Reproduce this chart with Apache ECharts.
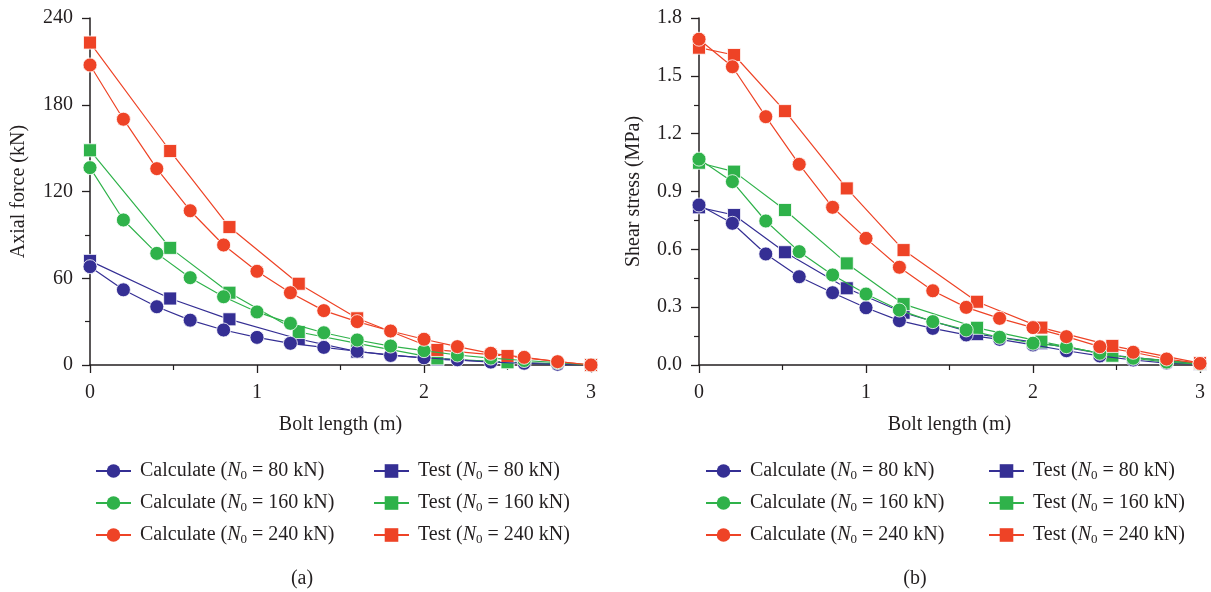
<!DOCTYPE html>
<html>
<head>
<meta charset="utf-8">
<script src="https://cdn.jsdelivr.net/npm/echarts@6/dist/echarts.min.js"></script>
<style>
html,body{margin:0;padding:0;background:#fff;}
#main{width:1211px;height:592px;}
</style>
</head>
<body>
<div id="main"></div>
<script>
// ---- Data ----
const calcX = [0, 0.2, 0.4, 0.6, 0.8, 1.0, 1.2, 1.4, 1.6, 1.8, 2.0, 2.2, 2.4, 2.6, 2.8, 3.0];
const testXA = [0, 0.48, 0.835, 1.25, 1.6, 2.08, 2.5, 3.0];
const testXB = [0, 0.21, 0.515, 0.885, 1.225, 1.665, 2.05, 2.475, 3.0];

// (a) Axial force (kN)
const axialCalc80  = [68, 52, 40.3, 31, 24.2, 19.1, 15, 12.2, 9.5, 6.6, 5, 3.6, 2, 1.2, 0.5, 0];
const axialCalc160 = [136.5, 100.3, 77.2, 60.4, 47.2, 36.7, 28.8, 22.3, 17.3, 13.1, 9.9, 6.9, 4.8, 3.1, 1.7, 0];
const axialCalc240 = [207.5, 170, 135.8, 106.7, 83, 64.8, 50, 37.6, 30, 23.5, 17.8, 12.7, 8.1, 5.3, 2.3, 0];
const axialTest80  = [72, 46, 31.6, 18, 9.2, 3.9, 2, 0];
const axialTest160 = [148.5, 81, 50, 22.8, 15, 4.6, 1.9, 0];
const axialTest240 = [223, 148, 95.4, 56.2, 32.3, 10.4, 6.2, 0];

// (b) Shear stress (MPa)
const shearCalc80  = [0.83, 0.735, 0.576, 0.458, 0.375, 0.297, 0.23, 0.19, 0.156, 0.133, 0.104, 0.074, 0.047, 0.026, 0.01, 0.005];
const shearCalc160 = [1.068, 0.951, 0.747, 0.588, 0.467, 0.368, 0.285, 0.225, 0.182, 0.144, 0.113, 0.095, 0.061, 0.035, 0.015, 0.005];
const shearCalc240 = [1.69, 1.547, 1.288, 1.041, 0.818, 0.657, 0.507, 0.385, 0.299, 0.242, 0.194, 0.147, 0.095, 0.066, 0.031, 0.008];
const shearTest80  = [0.818, 0.778, 0.585, 0.398, 0.271, 0.16, 0.113, 0.05, 0.005];
const shearTest160 = [1.049, 1.003, 0.804, 0.527, 0.316, 0.193, 0.121, 0.048, 0.008];
const shearTest240 = [1.646, 1.608, 1.317, 0.916, 0.596, 0.328, 0.194, 0.099, 0.01];

const yTicksA = ['0', '60', '120', '180', '240'];
const yTicksB = ['0.0', '0.3', '0.6', '0.9', '1.2', '1.5', '1.8'];
const xTicks = ['0', '1', '2', '3'];

const loads = ['80', '160', '240'];

// ---- Styles ----
const BLUE = '#352f94', GREEN = '#2fb24a', RED = '#ee4326';
const colors = [BLUE, GREEN, RED];
const FONT = '"Liberation Serif", "DejaVu Serif", serif';
const TXT = '#231f20';
const FS = 20;

function pairs(xs, ys) { return xs.map((x, i) => [x, ys[i]]); }

function calcName(l, chart) { return 'Calculate (N0 = ' + l + ' kN)' + chart; }
function testName(l, chart) { return 'Test (N0 = ' + l + ' kN)' + chart; }

function makeSeries(idx, chart, calcArrs, testArrs, testX) {
  const out = [];
  loads.forEach((l, k) => {
    out.push({
      name: calcName(l, chart), type: 'line', xAxisIndex: idx, yAxisIndex: idx,
      data: pairs(calcX, calcArrs[k]),
      symbol: 'circle', symbolSize: 14,
      lineStyle: { color: colors[k], width: 1.2 },
      itemStyle: { color: colors[k], borderColor: '#fff', borderWidth: 0.8 },
      emphasis: { disabled: true }, animation: false, z: 3
    });
    out.push({
      name: testName(l, chart), type: 'line', xAxisIndex: idx, yAxisIndex: idx,
      data: pairs(testX, testArrs[k]),
      symbol: 'rect', symbolSize: 13,
      lineStyle: { color: colors[k], width: 1.2 },
      itemStyle: { color: colors[k], borderColor: '#fff', borderWidth: 0.8 },
      emphasis: { disabled: true }, animation: false, z: 2
    });
  });
  return out;
}

function xAxis(gi) {
  return {
    type: 'value', gridIndex: gi, min: 0, max: 3, interval: 1,
    name: 'Bolt length (m)', nameLocation: 'middle', nameGap: 50,
    nameTextStyle: { fontFamily: FONT, fontSize: FS, color: TXT },
    axisLine: { show: true, lineStyle: { color: TXT, width: 1.5 } },
    axisTick: { show: true, inside: false, length: 8, lineStyle: { color: TXT, width: 1.3 } },
    minorTick: { show: true, splitNumber: 2, length: 5, lineStyle: { color: TXT, width: 1.2 } },
    splitLine: { show: false },
    axisLabel: { fontFamily: FONT, fontSize: FS, color: TXT, margin: 18,
      formatter: v => xTicks[Math.round(v)] }
  };
}

function yAxis(gi, max, interval, name, gap, ticks) {
  return {
    type: 'value', gridIndex: gi, min: 0, max: max, interval: interval,
    name: name, nameLocation: 'middle', nameGap: gap,
    nameTextStyle: { fontFamily: FONT, fontSize: FS, color: TXT },
    axisLine: { show: true, lineStyle: { color: TXT, width: 1.5 } },
    axisTick: { show: true, inside: false, length: 8, lineStyle: { color: TXT, width: 1.3 } },
    minorTick: { show: true, splitNumber: 2, length: 5, lineStyle: { color: TXT, width: 1.2 } },
    splitLine: { show: false },
    axisLabel: { fontFamily: FONT, fontSize: FS, color: TXT, margin: 17,
      formatter: v => ticks[Math.round(v / interval)] }
  };
}

const rich = {
  t: { fontFamily: FONT, fontSize: FS, color: TXT, lineHeight: 22 },
  i: { fontFamily: FONT, fontSize: FS, color: TXT, fontStyle: 'italic', lineHeight: 22 },
  s: { fontFamily: FONT, fontSize: 13, color: TXT, lineHeight: 13, verticalAlign: 'bottom' }
};

function legendFmt(name) {
  const base = name.replace(/\(A\)$|\(B\)$/, '');
  const m = base.match(/^(.*)\(N0 = (\d+) kN\)$/);
  return '{t|' + m[1] + '(}{i|N}{s|0}{t| = ' + m[2] + ' kN)}';
}

function legend(left, names) {
  return {
    orient: 'vertical', left: left, top: 456,
    itemWidth: 35, itemHeight: 17, itemGap: 11,
    data: names, selectedMode: false,
    formatter: legendFmt,
    itemStyle: { borderWidth: 0 },
    textStyle: { rich: rich, padding: [0, 0, 0, 4] }
  };
}

const series = []
  .concat(makeSeries(0, '(A)', [axialCalc80, axialCalc160, axialCalc240], [axialTest80, axialTest160, axialTest240], testXA))
  .concat(makeSeries(1, '(B)', [shearCalc80, shearCalc160, shearCalc240], [shearTest80, shearTest160, shearTest240], testXB));

const option = {
  backgroundColor: '#fff',
  animation: false,
  grid: [
    { left: 90, top: 18, width: 501, height: 347 },
    { left: 699, top: 18, width: 501, height: 347 }
  ],
  xAxis: [xAxis(0), xAxis(1)],
  yAxis: [
    yAxis(0, 240, 60, 'Axial force (kN)', 61, yTicksA),
    yAxis(1, 1.8, 0.3, 'Shear stress (MPa)', 55, yTicksB)
  ],
  legend: [
    legend(90, loads.map(l => calcName(l, '(A)'))),
    legend(368, loads.map(l => testName(l, '(A)'))),
    legend(700, loads.map(l => calcName(l, '(B)'))),
    legend(983, loads.map(l => testName(l, '(B)')))
  ],
  title: [
    { text: '(a)', left: 302, top: 569, textAlign: 'center', textStyle: { fontFamily: FONT, fontSize: FS, color: TXT, fontWeight: 'normal' }, padding: 0 },
    { text: '(b)', left: 915, top: 569, textAlign: 'center', textStyle: { fontFamily: FONT, fontSize: FS, color: TXT, fontWeight: 'normal' }, padding: 0 }
  ],
  series: series
};

const chart = echarts.init(document.getElementById('main'), null, { renderer: 'canvas' });
chart.setOption(option);
</script>
</body>
</html>
